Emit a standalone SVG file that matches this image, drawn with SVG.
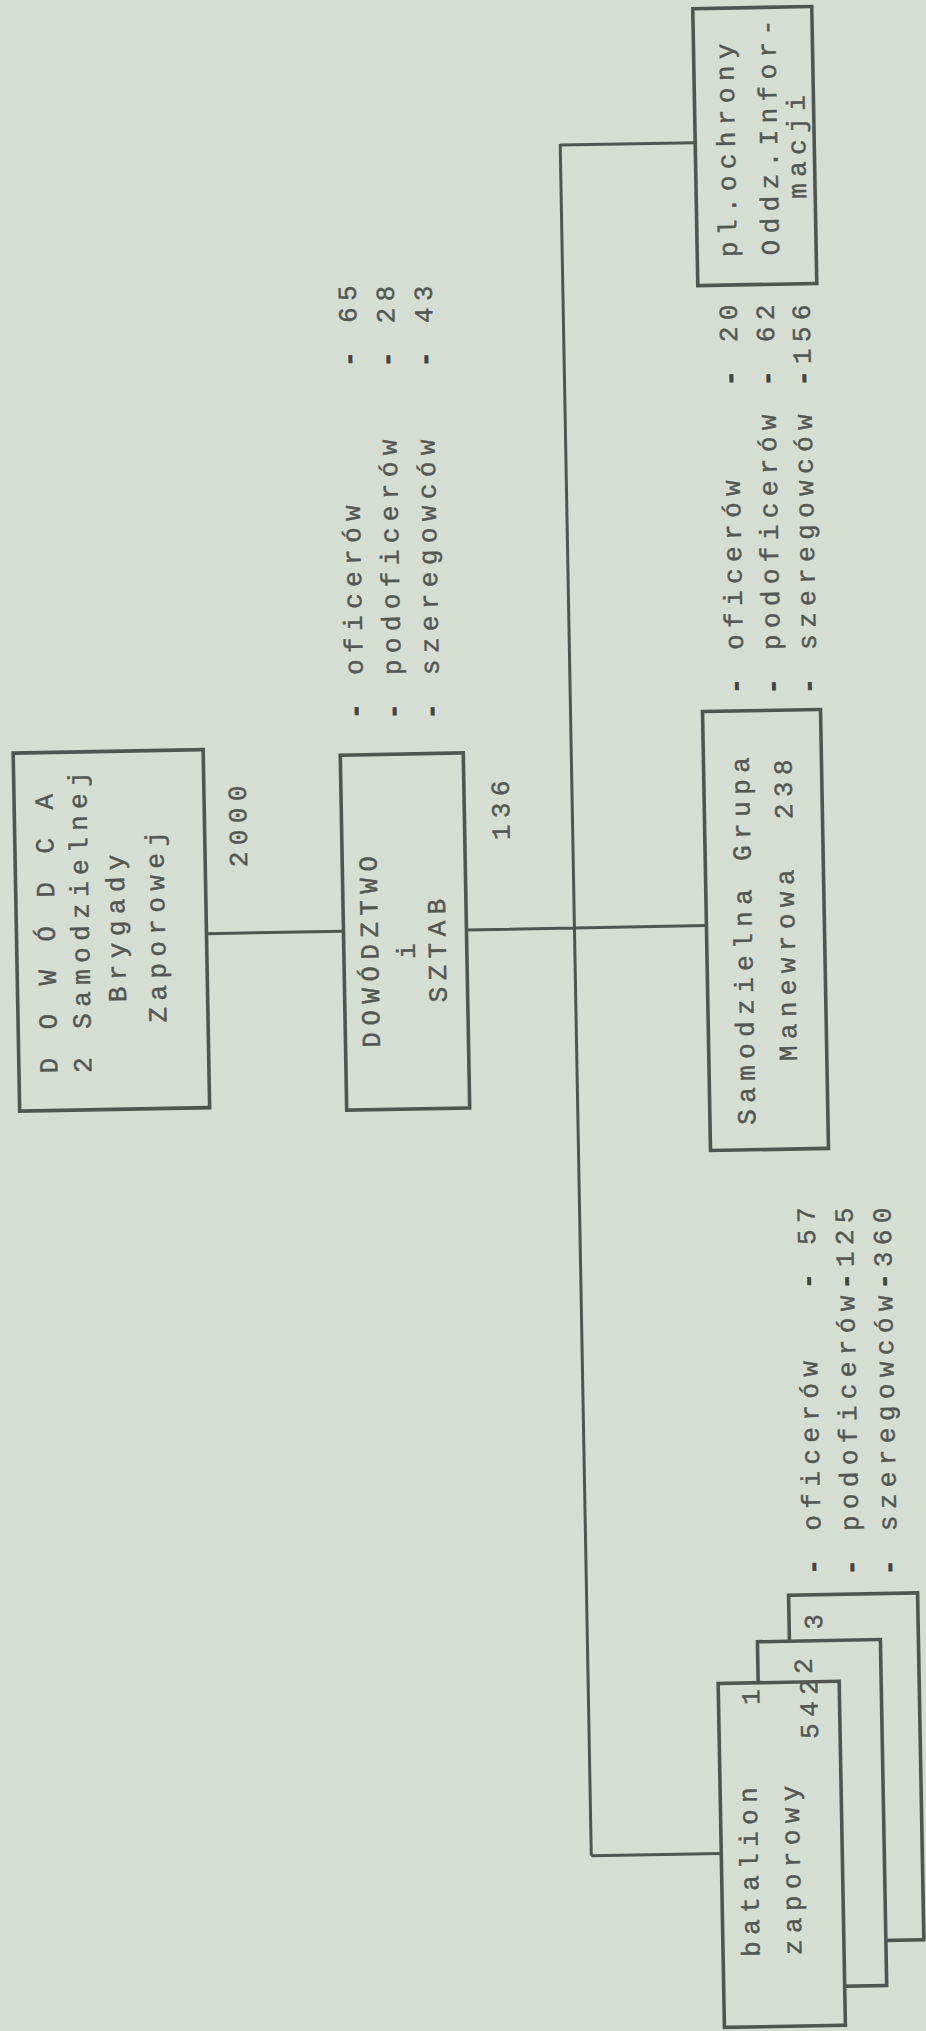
<svg xmlns="http://www.w3.org/2000/svg" width="926" height="2031" viewBox="0 0 926 2031">
<style>
.t{font-family:"Liberation Mono","DejaVu Sans Mono",monospace;font-size:26px;letter-spacing:6.4px;fill:#535753;stroke:#535753;stroke-width:0.45}
.d{font-weight:bold;fill:#3f433f;stroke:#3f433f;stroke-width:0.8}
.box{fill:#d6ded3;stroke:#515551;stroke-width:3.6}
.c{stroke:#515551;stroke-width:3;fill:none}
</style>
<rect width="926" height="2031" fill="#d6ded3"/>
<g transform="rotate(-1.04 463 1015)">
<g id="connectors">
<path class="c" d="M208 929H345 M468 930H708 M576 146V1858 M576 147H711 M576 1858H706"/>
</g>
<g id="node-dowodca">
<rect class="box" x="18" y="745" width="190" height="358"/>
<text class="t" transform="translate(56.5 1066) rotate(-90)">D O W Ó D C A</text>
<text class="t" transform="translate(90.5 1066) rotate(-90)">2 Samodzielnej</text>
<text class="t" transform="translate(126.5 996) rotate(-90)">Brygady</text>
<text class="t" transform="translate(166.5 1017) rotate(-90)">Zaporowej</text>
<text class="t" transform="translate(250 863) rotate(-90)">2000</text>
</g>
<g id="node-dowodztwo">
<rect class="box" x="345" y="753" width="123" height="355"/>
<text class="t" transform="translate(379.4 1046) rotate(-90)">DOWÓDZTWO</text>
<text class="t" transform="translate(416 958) rotate(-90)">i</text>
<text class="t" transform="translate(447 1002) rotate(-90)">SZTAB</text>
<text class="t" transform="translate(513 841) rotate(-90)">136</text>
</g>
<g id="stats-dowodztwo">
<text class="t" transform="translate(369 717) rotate(-90)"><tspan x="0" class="d">-</tspan><tspan x="44">oficerów</tspan><tspan x="352" class="d">-</tspan><tspan x="396">65</tspan></text>
<text class="t" transform="translate(407 718) rotate(-90)"><tspan x="0" class="d">-</tspan><tspan x="44">podoficerów</tspan><tspan x="352" class="d">-</tspan><tspan x="396">28</tspan></text>
<text class="t" transform="translate(445 718.6) rotate(-90)"><tspan x="0" class="d">-</tspan><tspan x="44">szeregowców</tspan><tspan x="352" class="d">-</tspan><tspan x="396">43</tspan></text>
</g>
<g id="node-pluton-ochrony">
<rect class="box" x="711" y="13" width="119" height="277"/>
<text class="t" transform="translate(750.7 262) rotate(-90)">pl.ochrony</text>
<text class="t" transform="translate(793 261) rotate(-90)">Oddz.Infor-</text>
<text class="t" transform="translate(821 205) rotate(-90)">macji</text>
</g>
<g id="stats-grupa">
<text class="t" transform="translate(749.5 699) rotate(-90)"><tspan x="0" class="d">-</tspan><tspan x="44">oficerów</tspan><tspan x="308" class="d">-</tspan><tspan x="352">20</tspan></text>
<text class="t" transform="translate(786.5 699.7) rotate(-90)"><tspan x="0" class="d">-</tspan><tspan x="44">podoficerów</tspan><tspan x="308" class="d">-</tspan><tspan x="352">62</tspan></text>
<text class="t" transform="translate(822.5 700.3) rotate(-90)"><tspan x="0" class="d">-</tspan><tspan x="44">szeregowców</tspan><tspan x="308" class="d">-</tspan><tspan x="330">156</tspan></text>
</g>
<g id="node-grupa-manewrowa">
<rect class="box" x="708" y="716" width="118" height="439"/>
<text class="t" transform="translate(753.4 1130) rotate(-90)">Samodzielna Grupa</text>
<text class="t" transform="translate(796 1067) rotate(-90)"><tspan x="0">Manewrowa</tspan><tspan x="242">238</tspan></text>
</g>
<g id="stats-batalion">
<text class="t" transform="translate(811 1581) rotate(-90)"><tspan x="0" class="d">-</tspan><tspan x="44">oficerów</tspan><tspan x="286" class="d">-</tspan><tspan x="330">57</tspan></text>
<text class="t" transform="translate(849 1582) rotate(-90)"><tspan x="0" class="d">-</tspan><tspan x="44">podoficerów</tspan><tspan x="286" class="d">-</tspan><tspan x="308">125</tspan></text>
<text class="t" transform="translate(887 1582.8) rotate(-90)"><tspan x="0" class="d">-</tspan><tspan x="44">szeregowców</tspan><tspan x="286" class="d">-</tspan><tspan x="308">360</tspan></text>
</g>
<g id="node-batalion">
<rect class="box" x="778" y="1601" width="129" height="347"/>
<text class="t" transform="translate(811 1636) rotate(-90)">3</text>
<rect class="box" x="746" y="1647" width="123" height="346"/>
<text class="t" transform="translate(800 1680) rotate(-90)">2</text>
<rect class="box" x="706" y="1688" width="121" height="344"/>
<text class="t" transform="translate(747 1710) rotate(-90)">1</text>
<text class="t" transform="translate(742.5 1962) rotate(-90)">batalion</text>
<text class="t" transform="translate(784.5 1961) rotate(-90)">zaporowy</text>
<text class="t" transform="translate(805 1745) rotate(-90)">542</text>
</g>
</g>
</svg>
